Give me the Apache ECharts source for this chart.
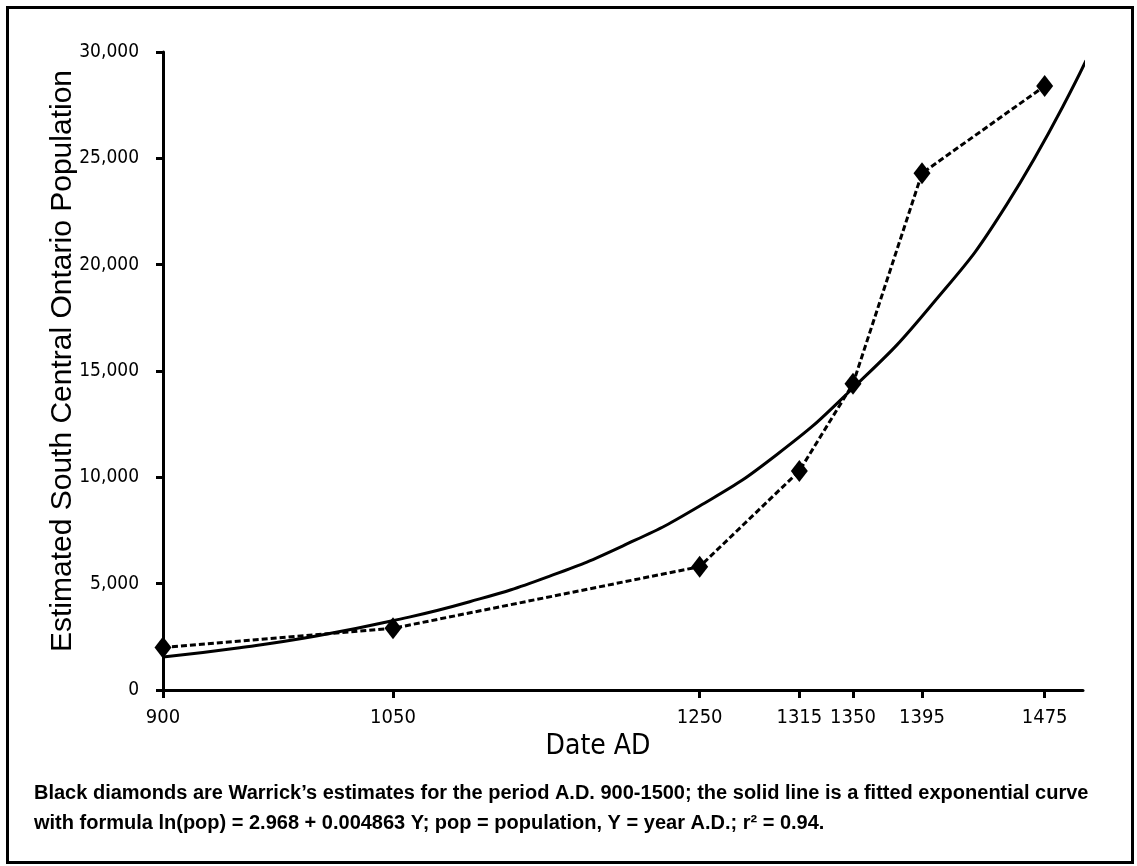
<!DOCTYPE html>
<html>
<head>
<meta charset="utf-8">
<script src="https://cdn.jsdelivr.net/npm/echarts@6/dist/echarts.min.js"></script>
<style>
html,body{margin:0;padding:0;background:#fff;}
#chart{width:1137px;height:866px;}
</style>
</head>
<body>
<div id="chart"></div>
<script>
// Warrick's estimates (black diamonds)
var estYears = [900, 1050, 1250, 1315, 1350, 1395, 1475];
var estPop = [2000, 2900, 5800, 10300, 14400, 24300, 28400];

// fitted exponential curve
var curveYears = [900, 950, 1000, 1050, 1100, 1150, 1200, 1250, 1300, 1350, 1400, 1450, 1502];
var curvePop = [1550, 1990, 2540, 3260, 4150, 5300, 6780, 8650, 11050, 14200, 18000, 22800, 29600];

var xTicks = [900, 1050, 1250, 1315, 1350, 1395, 1475];

var caption = "Black diamonds are Warrick\u2019s estimates for the period A.D. 900-1500; the solid line is a fitted exponential curve\n" +
    "with formula ln(pop) = 2.968 + 0.004863 Y; pop = population, Y = year A.D.; r\u00b2 = 0.94.";

var narrow = "'Liberation Sans Narrow', 'DejaVu Sans Condensed', 'Liberation Sans', sans-serif";

var estData = [], curveData = [];
for (var i = 0; i < estYears.length; i++) estData.push([estYears[i], estPop[i]]);
for (var j = 0; j < curveYears.length; j++) curveData.push([curveYears[j], curvePop[j]]);

var e = echarts.init(document.getElementById("chart"));
var a = {
    animation: false,
    backgroundColor: "#fff",
    grid: {
        left: 163,
        right: 54,
        top: 52,
        bottom: 176
    },
    xAxis: {
        type: "value",
        min: 900,
        max: 1500,
        name: "Date AD",
        nameLocation: "middle",
        nameGap: 37,
        nameTextStyle: {
            color: "#000",
            fontSize: 28,
            fontFamily: narrow,
            padding: [0, 50, 0, 0]
        },
        axisLine: { lineStyle: { color: "#000", width: 3 } },
        axisTick: {
            customValues: xTicks,
            length: 8,
            lineStyle: { color: "#000", width: 3 }
        },
        axisLabel: {
            customValues: xTicks,
            color: "#000",
            fontSize: 20,
            fontFamily: narrow,
            margin: 18,
            formatter: function (v) { return String(v); }
        },
        splitLine: { show: false }
    },
    yAxis: {
        type: "value",
        min: 0,
        max: 30000,
        interval: 5000,
        name: "Estimated South Central Ontario Population",
        nameLocation: "middle",
        nameGap: 85,
        nameMoveOverlap: false,
        nameTextStyle: {
            color: "#000",
            fontSize: 30,
            fontFamily: "'Liberation Sans', Arial, sans-serif",
            padding: [0, 0, 0, 20]
        },
        axisLine: { show: true, lineStyle: { color: "#000", width: 3 } },
        axisTick: {
            show: true,
            length: 7,
            lineStyle: { color: "#000", width: 3 }
        },
        axisLabel: {
            color: "#000",
            fontSize: 19,
            fontFamily: narrow,
            margin: 24,
            formatter: function (v) {
                return v.toLocaleString("en-US");
            }
        },
        splitLine: { show: false }
    },
    graphic: [{
        type: "rect",
        left: 5,
        top: 5,
        shape: { width: 1125, height: 855 },
        style: { fill: "none", stroke: "#000", lineWidth: 3 },
        z: 0
    }, {
        type: "text",
        left: 34,
        top: 778,
        style: {
            text: caption,
            fill: "#000",
            fontSize: 20,
            fontWeight: "bold",
            lineHeight: 30,
            fontFamily: "'Liberation Sans', Arial, sans-serif"
        }
    }],
    series: [{
        name: "fit",
        type: "line",
        data: curveData,
        smooth: 0.5,
        showSymbol: false,
        lineStyle: { color: "#000", width: 3 },
        z: 2
    }, {
        name: "estimates",
        type: "line",
        data: estData,
        symbol: "diamond",
        symbolSize: [17, 22],
        itemStyle: { color: "#000" },
        lineStyle: { color: "#000", width: 3, type: [6, 3] },
        z: 3
    }]
};
e.setOption(a);
window.addEventListener("resize", e.resize);
</script>
</body>
</html>
